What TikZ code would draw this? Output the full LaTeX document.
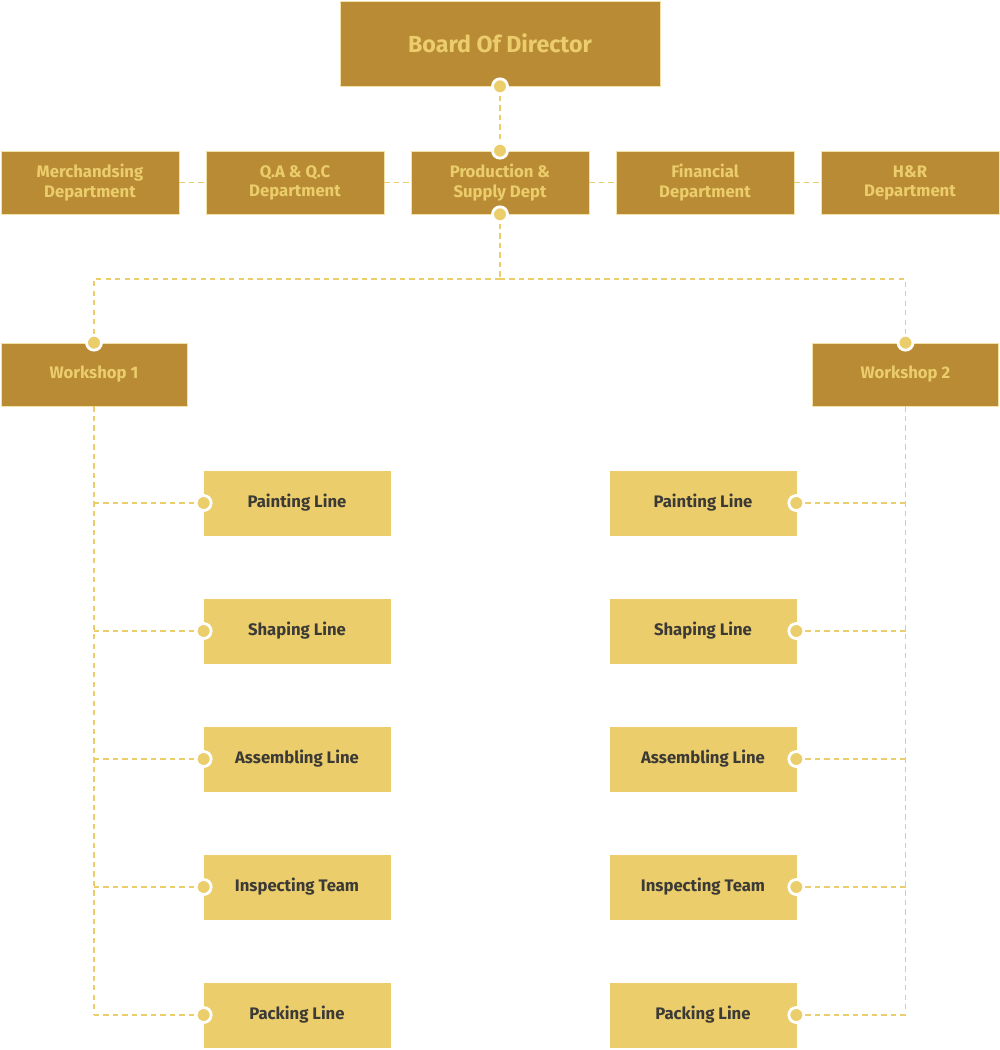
\documentclass[tikz,border=0pt]{standalone}
\usepackage{fontspec}
\setmainfont{Fira Sans}
\usepackage{tikz}
\usetikzlibrary{positioning,calc}
\definecolor{gold}{RGB}{185,139,53}
\definecolor{sand}{RGB}{235,205,107}
\definecolor{ink}{RGB}{60,58,54}
\tikzset{
  box/.style={draw=sand!60,line width=0.4pt,align=center,inner sep=0pt,
              font=\bfseries\fontsize{9.5}{10.9}\selectfont},
  dbox/.style={box,fill=gold,text=sand,minimum width=3.56cm,minimum height=1.26cm},
  wbox/.style={dbox,minimum width=3.72cm},
  lbox/.style={box,fill=sand,draw=sand,text=ink,minimum width=3.72cm,minimum height=1.28cm},
  link/.style={draw=sand,line width=0.7pt,dash pattern=on 3pt off 2.4pt},
  dot/.style={circle,fill=sand,draw=white,line width=1.6pt,minimum size=0.3cm,inner sep=0pt},
}

\begin{document}
\begin{tikzpicture}
\useasboundingbox (0,0) rectangle (20,-21);
% top
\node[dbox,minimum width=6.4cm,minimum height=1.7cm,
      font=\bfseries\fontsize{13.2}{15}\selectfont] (board) at (10,-0.87) {Board Of Director};
% departments
\node[dbox] (merch) at (1.8,-3.65)  {Merchandsing\\Department};
\node[dbox] (qaqc)  at (5.9,-3.65)  {Q.A \& Q.C\\Department};
\node[dbox] (prod)  at (10,-3.65)   {Production \&\\Supply Dept};
\node[dbox] (fin)   at (14.1,-3.65) {Financial\\Department};
\node[dbox] (hr)    at (18.2,-3.65) {H\&R\\Department};
% workshops
\node[wbox] (ws1) at (1.88,-7.49)  {Workshop 1};
\node[wbox] (ws2) at (18.11,-7.49) {Workshop 2};
\coordinate (split) at (10,-5.58);

\draw[link] (board.south) -- (prod.north);
\draw[link] (merch.east) -- (qaqc.west);
\draw[link] (qaqc.east) -- (prod.west);
\draw[link] (prod.east) -- (fin.west);
\draw[link] (fin.east) -- (hr.west);
\draw[link] (prod.south) -- (split);
\draw[link] (split) -| (ws1.north);
\draw[link] (split) -| (ws2.north);

% production lines
\foreach \lbl [count=\i] in {Painting Line,Shaping Line,Assembling Line,Inspecting Team,Packing Line}{
  \node[lbox] (l\i) at (5.94,{-10.06-2.56*(\i-1)}) {\lbl};
  \node[lbox] (r\i) at (14.06,{-10.06-2.56*(\i-1)}) {\lbl};
  \draw[link] (ws1.south |- l\i.west) -- (l\i.west);
  \draw[link] (ws2.south |- r\i.east) -- (r\i.east);
}
\draw[link] (ws1.south) -- (ws1.south |- l5.west);
\draw[link] (ws2.south) -- (ws2.south |- r5.east);

% dots
\foreach \a in {board.south,prod.north,prod.south,ws1.north,ws2.north}
  \node[dot] at (\a) {};
\foreach \i in {1,...,5}{
  \node[dot] at (l\i.west) {};
  \node[dot] at (r\i.east) {};
}
\end{tikzpicture}
\end{document}
